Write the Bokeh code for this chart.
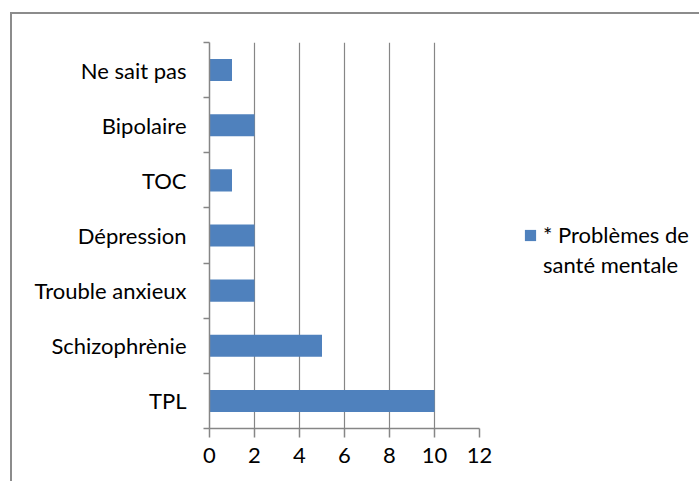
from bokeh.plotting import figure
from bokeh.models import FixedTicker, Range1d, Legend, LegendItem
from bokeh.embed import file_html
from bokeh.resources import INLINE

categories = ["TPL", "Schizophrènie", "Trouble anxieux", "Dépression", "TOC", "Bipolaire", "Ne sait pas"]
values = [10, 5, 2, 2, 1, 2, 1]
x_ticks = [0, 2, 4, 6, 8, 10, 12]
legend_lines = ["* Problèmes de", "santé mentale"]

FONT = "Lato"
FS = "22px"
GRAY = "#868686"
BAR = "#4F81BD"

n = len(categories)
ys = [i + 0.5 for i in range(n)]

OX, OY = 12, 14  # offset of the canvas inside the bordered box
p = figure(frame_width=270, frame_height=386, output_backend="svg", toolbar_location=None,
           x_range=Range1d(0, 12), y_range=Range1d(0, n),
           min_border_left=209 - OX, min_border_right=220, min_border_top=42 - OY,
           min_border_bottom=53)
p.styles = {"border-left": "2px solid #8c8c8c", "border-top": "2px solid #8c8c8c",
            "margin-left": "10px", "margin-top": "12px"}
p.outline_line_color = None
p.background_fill_color = "white"
p.border_fill_color = "white"

r = p.hbar(y=ys, left=0, right=values, height=0.4, fill_color=BAR, line_color=None)
# invisible companion renderer for the wrapped second line of the legend label
r_blank = p.hbar(y=[], left=[], right=[], height=0.4, fill_alpha=0, line_alpha=0)

# y axis
p.yaxis.ticker = FixedTicker(ticks=ys, minor_ticks=list(range(n + 1)))
p.yaxis.major_label_overrides = {y: c for y, c in zip(ys, categories)}
p.yaxis.major_tick_out = 0
p.yaxis.major_tick_in = 0
p.yaxis.minor_tick_out = 6
p.yaxis.minor_tick_in = 0
p.yaxis.minor_tick_line_color = GRAY
p.yaxis.axis_line_color = GRAY
p.yaxis.axis_line_width = 1.5
p.yaxis.minor_tick_line_width = 1.5
p.yaxis.major_label_standoff = 17
p.yaxis.major_label_text_font = FONT
p.yaxis.major_label_text_font_size = FS
p.yaxis.major_label_text_color = "black"

# x axis
p.xaxis.ticker = FixedTicker(ticks=x_ticks, minor_ticks=[])
p.xaxis.major_tick_out = 9
p.xaxis.major_tick_in = 0
p.xaxis.major_tick_line_color = GRAY
p.xaxis.major_tick_line_width = 1.5
p.xaxis.axis_line_color = GRAY
p.xaxis.axis_line_width = 1.5
p.xaxis.major_label_standoff = 10
p.xaxis.major_label_text_font = FONT
p.xaxis.major_label_text_font_size = FS
p.xaxis.major_label_text_color = "black"

p.xgrid.ticker = FixedTicker(ticks=x_ticks)
p.xgrid.grid_line_color = GRAY
p.xgrid.grid_line_width = 1.2
p.ygrid.grid_line_color = None

legend = Legend(items=[LegendItem(label=legend_lines[0], renderers=[r]),
                       LegendItem(label=legend_lines[1], renderers=[r_blank])],
                location=(44, 150), orientation="vertical", spacing=3,
                margin=0, padding=0, glyph_width=14, glyph_height=14,
                label_standoff=6, label_text_font=FONT, label_text_font_size=FS,
                label_text_color="black", border_line_color=None,
                background_fill_alpha=0)
p.add_layout(legend, "right")

open("out.html", "w").write(file_html(p, INLINE))
